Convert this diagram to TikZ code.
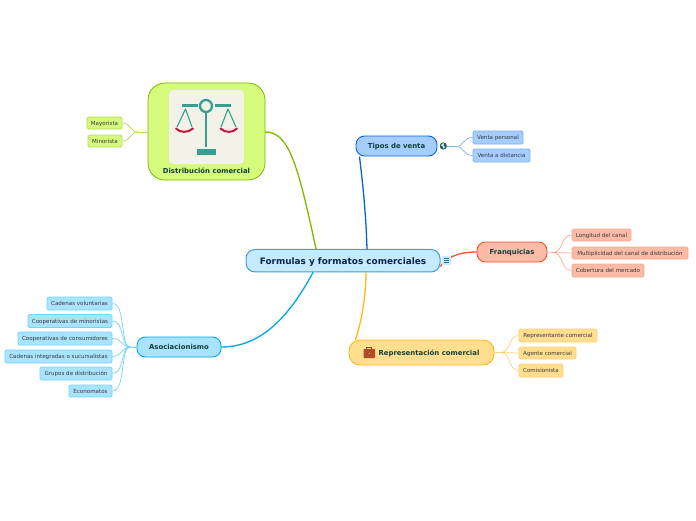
\documentclass[tikz,border=0pt]{standalone}
\usepackage{fontspec}
\setmainfont{DejaVu Sans}
\usetikzlibrary{calc}
\definecolor{gF}{HTML}{D5FA7C}\definecolor{gD}{HTML}{7FB800}\definecolor{gL}{HTML}{B4DC5A}
\definecolor{bF}{HTML}{A6CDFF}\definecolor{bD}{HTML}{0A62D6}\definecolor{bL}{HTML}{7FB0F0}
\definecolor{rF}{HTML}{FCBBA6}\definecolor{rD}{HTML}{F1542A}\definecolor{rL}{HTML}{FDA88C}
\definecolor{yF}{HTML}{FFDF8E}\definecolor{yD}{HTML}{FDB813}\definecolor{yL}{HTML}{FFD07A}
\definecolor{cF}{HTML}{A8E4FF}\definecolor{cD}{HTML}{00A6E6}\definecolor{cL}{HTML}{76D4FA}
\definecolor{mF}{HTML}{C6EAFF}\definecolor{mD}{HTML}{3F9FDC}\definecolor{mT}{HTML}{0A2550}
\definecolor{iconteal}{HTML}{35A08F}\definecolor{pan}{HTML}{C8143C}\definecolor{brT}{HTML}{0F3F3C}
\tikzset{
  x=1pt,y=-1pt,
  boxsize/.style n args={2}{minimum width=#1*1pt,minimum height=#2*1pt},
  central/.style={draw=mD,fill=mF,line width=1pt,rounded corners=9pt,inner sep=0pt,text=mT,text height=7.4pt,text depth=0pt,font=\bfseries\fontsize{8.9}{10}\selectfont},
  mainbr/.style 2 args={draw=#1,fill=#2,line width=.9pt,rounded corners=8.5pt,inner sep=0pt,text=brT,text height=5.6pt,text depth=0pt,font=\bfseries\fontsize{6.9}{8}\selectfont},
  leaf/.style 2 args={draw=#1,fill=#2,line width=.9pt,rounded corners=1.5pt,inner sep=0pt,text=black!78,text height=4.4pt,text depth=0pt,font=\fontsize{5.55}{6.5}\selectfont},
  branch/.style={line width=1.3pt,line cap=round},
  twig/.style={line width=.7pt},
}
\begin{document}
\begin{tikzpicture}
\useasboundingbox (0,0) rectangle (696,520);
% nodes
\node[central,boxsize={194}{22.5}] (c) at (343,260.7) {Formulas y formatos comerciales};
\node[draw=gD,fill=gF,line width=.8pt,rounded corners=17pt,boxsize={117}{97},inner sep=0pt] (dist) at (206.5,131.5) {};
\node[fill=black!6!white!96!yellow,rounded corners=4pt,boxsize={75}{74},inner sep=0pt] (img) at (206.5,127) {};
\node[inner sep=0pt,text=brT,font=\bfseries\fontsize{6.9}{8}\selectfont] (distt) at (206.5,170.5) {Distribución comercial};
% scale icon
\draw[iconteal,line width=2.3pt] (206,106) circle (6);
\draw[iconteal,line width=2.2pt] (182,105.5) -- (198,105.5) (215,105.5) -- (231,105.5);
\draw[iconteal,line width=2.2pt] (206.3,113) -- (206.3,147);
\fill[iconteal] (197,149) rectangle (216,155);
\draw[iconteal,line width=1.1pt] (185.5,109) -- (177,127) (185.5,109) -- (192,127) (228,109) -- (221,127) (228,109) -- (236,127);
\draw[pan,line width=2pt,line cap=round] (176,128.5) .. controls (180,133) and (188,133) .. (193,128.5);
\draw[pan,line width=2pt,line cap=round] (220.5,128.5) .. controls (225,133) and (233,133) .. (237,128.5);
\node[mainbr={bD}{bF},boxsize={81}{20}] (tipos) at (396.5,146) {Tipos de venta};
\node[mainbr={rD}{rF},boxsize={70}{20}] (fran) at (512,252) {Franquicias};
\node[mainbr={yD}{yF},boxsize={145}{25},rounded corners=11pt] (rep) at (421.5,352.5) {\hspace*{15pt}Representación comercial};
\node[mainbr={cD}{cF},boxsize={84}{20}] (aso) at (179,347) {Asociacionismo};
% leaves
\node[leaf={gL}{gF},boxsize={35}{12}] (l1) at (104.5,123) {Mayorista};
\node[leaf={gL}{gF},boxsize={34}{12}] (l2) at (105,141) {Minorista};
\node[leaf={bL}{bF},boxsize={50}{13}] (t1) at (498,137.5) {Venta personal};
\node[leaf={bL}{bF},boxsize={57}{13}] (t2) at (501.5,155.5) {Venta a distancia};
\node[leaf={rL}{rF},boxsize={59}{12}] (f1) at (601.5,235) {Longitud del canal};
\node[leaf={rL}{rF},boxsize={116}{12}] (f2) at (630,253) {Multiplicidad del canal de distribución};
\node[leaf={rL}{rF},boxsize={72}{13}] (f3) at (608,270.5) {Cobertura del mercado};
\node[leaf={yL}{yF},boxsize={78}{13}] (r1) at (558,335.5) {Representante comercial};
\node[leaf={yL}{yF},boxsize={57}{12}] (r2) at (547.5,353) {Agente comercial};
\node[leaf={yL}{yF},boxsize={44}{13}] (r3) at (541,370.5) {Comisionista};
\node[leaf={cL}{cF},boxsize={65}{13}] (a1) at (79.5,303.5) {Cadenas voluntarias};
\node[leaf={cL}{cF},boxsize={84}{13}] (a2) at (70,321) {Cooperativas de minoristas};
\node[leaf={cL}{cF},boxsize={94}{13}] (a3) at (65,338.5) {Cooperativas de consumidores};
\node[leaf={cL}{cF},boxsize={107}{13}] (a4) at (58.5,356.5) {Cadenas integradas o sucursalistas};
\node[leaf={cL}{cF},boxsize={72}{13}] (a5) at (76,373.5) {Grupos de distribución};
\node[leaf={cL}{cF},boxsize={43}{12}] (a6) at (90.5,391) {Economatos};
% main branches
\draw[branch,gD] (dist.east |- 0,132) .. controls (289,132) and (298,165) .. ([xshift=-27pt]c.north);
\draw[branch,bD] ([xshift=-37pt,yshift=-.5pt]tipos.south) .. controls (363,185) and (366,215) .. ([xshift=24pt]c.north);
\draw[branch,rD] (fran.west) .. controls (466,252) and (450,253.5) .. ([yshift=-5.5pt]c.east);
\draw[branch,yD] ([xshift=-66pt]rep.north) .. controls (362,320) and (366,295) .. ([xshift=23pt]c.south);
\draw[branch,cD] (aso.east) .. controls (262,347) and (290,315) .. ([xshift=-30pt]c.south);
% twigs
\coordinate (jg) at (138,132);
\draw[twig,gL] (dist.west |- jg) -- (jg);
\draw[twig,gL] (jg) .. controls (130,132) and (131,123) .. (l1.east);
\draw[twig,gL] (jg) .. controls (130,132) and (131,141) .. (l2.east);
\coordinate (jt) at (456,146.5);
\draw[twig,bL] (447,146.5) -- (jt);
\draw[twig,bL] (jt) .. controls (464,146.5) and (463,137.5) .. (t1.west);
\draw[twig,bL] (jt) .. controls (464,146.5) and (463,155.5) .. (t2.west);
\coordinate (jf) at (553,252.5);
\draw[twig,rL] (fran.east) -- (jf);
\draw[twig,rL] (jf) .. controls (563,252.5) and (561,235) .. (f1.west);
\draw[twig,rL] (jf) -- (f2.west);
\draw[twig,rL] (jf) .. controls (563,252.5) and (561,270.5) .. (f3.west);
\coordinate (jr) at (501,352.5);
\draw[twig,yL] (rep.east) -- (jr);
\draw[twig,yL] (jr) .. controls (511,352.5) and (508,335.5) .. (r1.west);
\draw[twig,yL] (jr) -- (r2.west);
\draw[twig,yL] (jr) .. controls (511,352.5) and (508,370.5) .. (r3.west);
\coordinate (ja) at (130,347);
\draw[twig,cL] (aso.west) -- (ja);
\draw[twig,cL] (ja) .. controls (120,347) and (126,303.5) .. (a1.east);
\draw[twig,cL] (ja) .. controls (120,347) and (125,321) .. (a2.east);
\draw[twig,cL] (ja) .. controls (122,347) and (122,338.5) .. (a3.east);
\draw[twig,cL] (ja) .. controls (122,347) and (122,356.5) .. (a4.east);
\draw[twig,cL] (ja) .. controls (120,347) and (125,373.5) .. (a5.east);
\draw[twig,cL] (ja) .. controls (120,347) and (126,391) .. (a6.east);
% globe icon
\fill[iconteal!60!black] (443.3,146) circle (3.6);
\fill[white!75!iconteal] (442,143.6) -- (444,143.4) -- (443.6,145.5) -- (445,147) -- (443.5,148.8) -- (442.8,146.5) -- (441,145.5) -- cycle;
% note icon
\fill[mF] (442,255.5) rectangle (451,265);
\draw[mD!70!black,line width=.7pt] (443.8,258) -- (449.2,258) (443.8,260.2) -- (449.2,260.2) (443.8,262.4) -- (449.2,262.4);
% briefcase icon
\fill[rounded corners=.6pt,fill=brown!70!red!85!black] (363.5,349) rectangle (375,358);
\draw[brown!60!black,line width=.7pt] (366.8,349) -- (366.8,347) -- (371.7,347) -- (371.7,349);
\fill[yF!60!brown] (368.5,352.5) rectangle (370,354);
\end{tikzpicture}
\end{document}
